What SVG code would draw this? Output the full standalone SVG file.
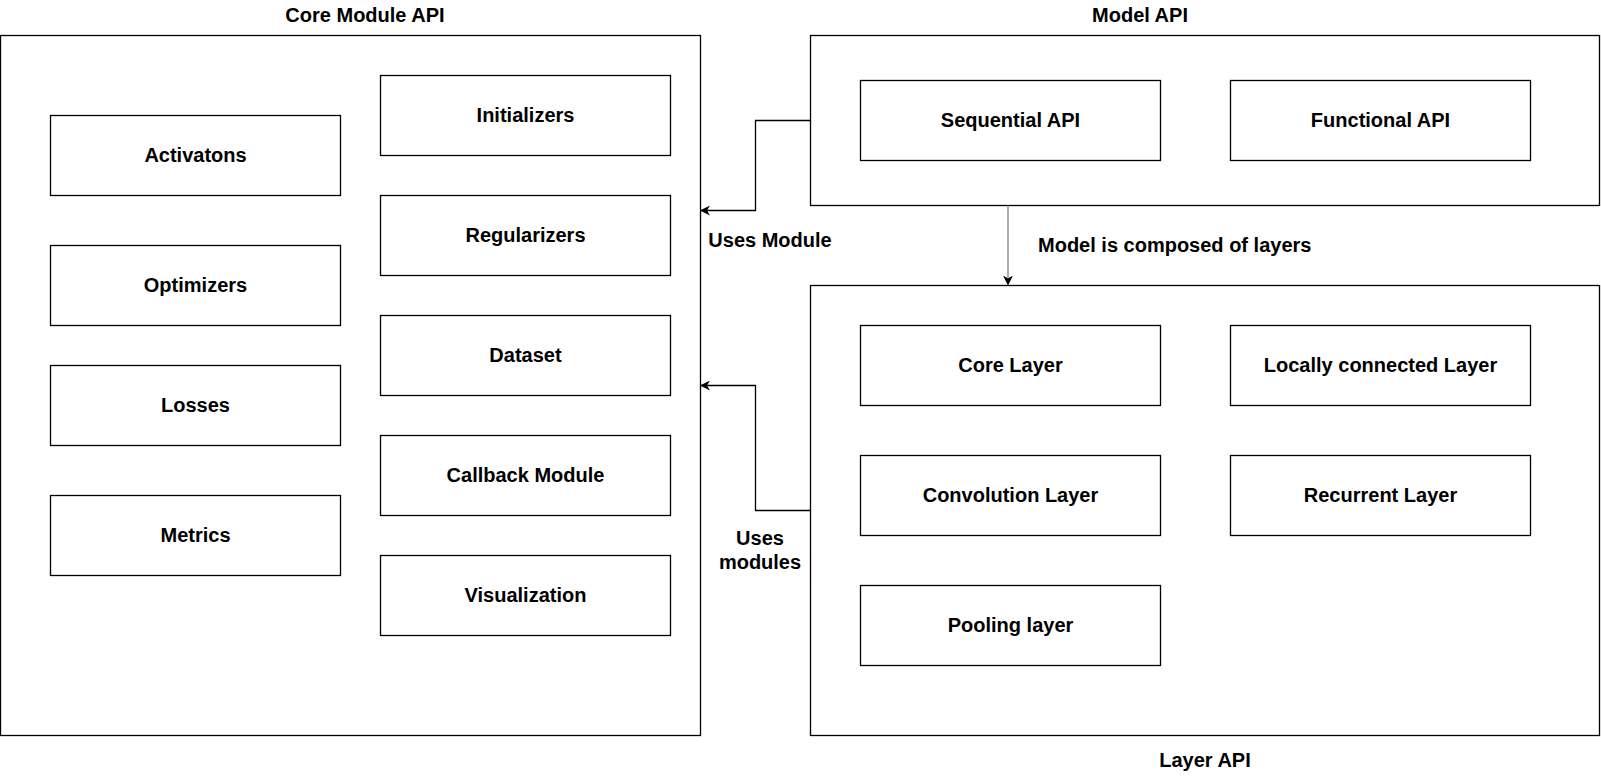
<svg xmlns="http://www.w3.org/2000/svg" width="1601" height="776" viewBox="0 0 1601 776">
<style>
.box{fill:#fff;stroke:#000;stroke-width:1.3}
.t{font-family:"Liberation Sans",Arial,sans-serif;font-weight:bold;font-size:20px;fill:#000;text-anchor:middle}
.tl{font-family:"Liberation Sans",Arial,sans-serif;font-weight:bold;font-size:20px;fill:#000}
.c{fill:none;stroke:#000;stroke-width:1.3}
</style>
<defs>
<marker id="ah" viewBox="0 0 10 10" refX="9" refY="5" markerWidth="10" markerHeight="10" markerUnits="userSpaceOnUse" orient="auto">
<path d="M0,0 L10,5 L0,10 L3,5 Z" fill="#000"/>
</marker>
</defs>
<rect width="1601" height="776" fill="#fff"/>
<g id="core-module-api">
<rect class="box" x="0.5" y="35.5" width="700" height="700"/>
<text class="t" x="365" y="22">Core Module API</text>
</g>
<g id="activatons"><rect class="box" x="50.5" y="115.5" width="290" height="80"/><text class="t" x="195.5" y="161.5">Activatons</text></g>
<g id="optimizers"><rect class="box" x="50.5" y="245.5" width="290" height="80"/><text class="t" x="195.5" y="291.5">Optimizers</text></g>
<g id="losses"><rect class="box" x="50.5" y="365.5" width="290" height="80"/><text class="t" x="195.5" y="411.5">Losses</text></g>
<g id="metrics"><rect class="box" x="50.5" y="495.5" width="290" height="80"/><text class="t" x="195.5" y="541.5">Metrics</text></g>
<g id="initializers"><rect class="box" x="380.5" y="75.5" width="290" height="80"/><text class="t" x="525.5" y="121.5">Initializers</text></g>
<g id="regularizers"><rect class="box" x="380.5" y="195.5" width="290" height="80"/><text class="t" x="525.5" y="241.5">Regularizers</text></g>
<g id="dataset"><rect class="box" x="380.5" y="315.5" width="290" height="80"/><text class="t" x="525.5" y="361.5">Dataset</text></g>
<g id="callback-module"><rect class="box" x="380.5" y="435.5" width="290" height="80"/><text class="t" x="525.5" y="481.5">Callback Module</text></g>
<g id="visualization"><rect class="box" x="380.5" y="555.5" width="290" height="80"/><text class="t" x="525.5" y="601.5">Visualization</text></g>
<g id="model-api">
<rect class="box" x="810.5" y="35.5" width="789" height="170"/>
<text class="t" x="1140" y="22">Model API</text>
</g>
<g id="sequential-api"><rect class="box" x="860.5" y="80.5" width="300" height="80"/><text class="t" x="1010.5" y="126.5">Sequential API</text></g>
<g id="functional-api"><rect class="box" x="1230.5" y="80.5" width="300" height="80"/><text class="t" x="1380.5" y="126.5">Functional API</text></g>
<g id="layer-api">
<rect class="box" x="810.5" y="285.5" width="789" height="450"/>
<text class="t" x="1205" y="767">Layer API</text>
</g>
<g id="core-layer"><rect class="box" x="860.5" y="325.5" width="300" height="80"/><text class="t" x="1010.5" y="371.5">Core Layer</text></g>
<g id="locally-connected-layer"><rect class="box" x="1230.5" y="325.5" width="300" height="80"/><text class="t" x="1380.5" y="371.5">Locally connected Layer</text></g>
<g id="convolution-layer"><rect class="box" x="860.5" y="455.5" width="300" height="80"/><text class="t" x="1010.5" y="501.5">Convolution Layer</text></g>
<g id="recurrent-layer"><rect class="box" x="1230.5" y="455.5" width="300" height="80"/><text class="t" x="1380.5" y="501.5">Recurrent Layer</text></g>
<g id="pooling-layer"><rect class="box" x="860.5" y="585.5" width="300" height="80"/><text class="t" x="1010.5" y="631.5">Pooling layer</text></g>
<g id="connectors">
<path class="c" d="M810.5,120.5 H755.5 V210.5 H701" marker-end="url(#ah)"/>
<text class="t" x="770" y="247">Uses Module</text>
<path class="c" d="M810.5,510.5 H755.5 V385.5 H701" marker-end="url(#ah)"/>
<text class="t" x="760" y="545">Uses</text>
<text class="t" x="760" y="569">modules</text>
<path d="M1008,205.5 V284.5" fill="none" stroke="#808080" stroke-width="1.3" marker-end="url(#ah)"/>
<text class="tl" x="1038" y="252">Model is composed of layers</text>
</g>
</svg>
